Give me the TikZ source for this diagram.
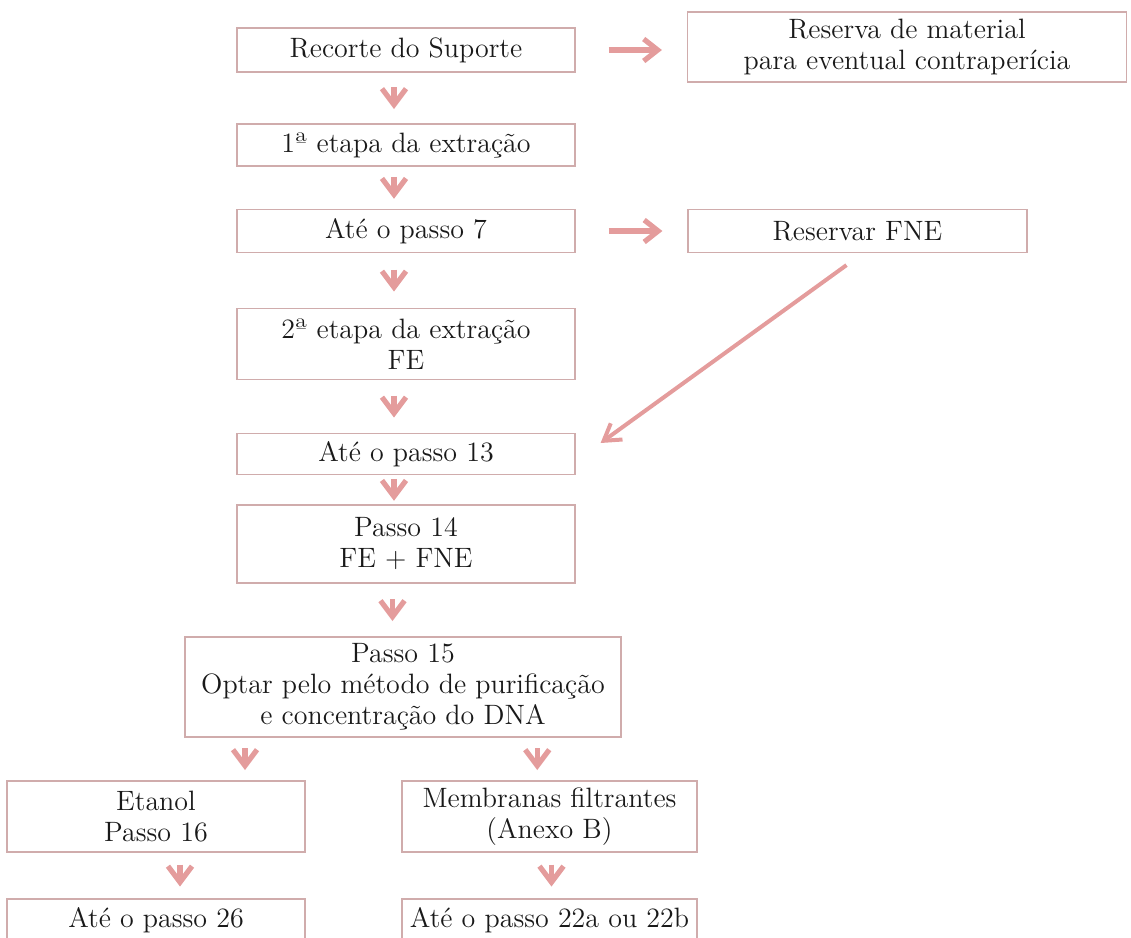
\documentclass[tikz,border=0pt]{standalone}
\usepackage{tikz}
\usetikzlibrary{
  arrows.meta,
  calc,
  positioning
}
\definecolor{boxedge}{RGB}{208,172,172}
\definecolor{arrowpink}{RGB}{228,156,156}

% short arrow in the gap between two stacked boxes
\newcommand{\flowstep}[3][-12]{%
  \draw[flowarrow] ($(#2.south)!.5!(#3.north)+(#1,-11)$) -- ($(#2.south)!.5!(#3.north)+(#1,11)$);}

\begin{document}
\begin{tikzpicture}[x=0.5pt,y=-0.5pt,
    stepbox/.style={draw=boxedge,line width=0.6pt,inner sep=0pt,align=center,
      font=\fontsize{14}{15.5}\selectfont,text=black!90},
    flowarrow/.style={arrowpink,line width=2.6pt,-{Straight Barb[length=8pt,width=12pt]}},
    sidearrow/.style={arrowpink,line width=2.6pt,-{Straight Barb[length=7pt,width=11pt]}},
    longarrow/.style={arrowpink,line width=2pt,-{Straight Barb[length=8pt,width=10pt]}}]
  \useasboundingbox (0,0) rectangle (1131,938);

  % main column
  \node[stepbox,minimum width=169pt,minimum height=22pt] (recorte) at (406,50) {Recorte do Suporte};
  \node[stepbox,minimum width=169pt,minimum height=21pt] (etapa1) at (406,145) {1ª etapa da extração};
  \node[stepbox,minimum width=169pt,minimum height=21.5pt] (passo7) at (406,231) {Até o passo 7};
  \node[stepbox,minimum width=169pt,minimum height=35.5pt] (etapa2) at (406,344) {2ª etapa da extração\\FE};
  \node[stepbox,minimum width=169pt,minimum height=20.5pt] (passo13) at (406,454) {Até o passo 13};
  \node[stepbox,minimum width=169pt,minimum height=39pt] (passo14) at (406,544) {Passo 14\\FE + FNE};
  \node[stepbox,minimum width=218pt,minimum height=50pt] (passo15) at (403,687)
    {Passo 15\\Optar pelo método de purificação\\e concentração do DNA};

  % side boxes
  \node[stepbox,minimum width=219.5pt,minimum height=35pt] (reserva) at (907,47)
    {Reserva de material\\para eventual contraperícia};
  \node[stepbox,minimum width=169.5pt,minimum height=21.5pt] (fne) at (857.5,231) {Reservar FNE};

  % two branches
  \node[stepbox,minimum width=149pt,minimum height=35.5pt] (etanol) at (156,816.5) {Etanol\\Passo 16};
  \node[stepbox,minimum width=147.5pt,minimum height=35.5pt] (membranas) at (549.5,816.5)
    {Membranas filtrantes\\(Anexo B)};
  \node[stepbox,minimum width=149pt,minimum height=21pt] (passo26) at (156,920) {Até o passo 26};
  \node[stepbox,minimum width=147.5pt,minimum height=21pt] (passo22) at (549.5,920) {Até o passo 22a ou 22b};

  % arrows
  \flowstep{recorte}{etapa1}
  \flowstep{etapa1}{passo7}
  \flowstep{passo7}{etapa2}
  \flowstep{etapa2}{passo13}
  \flowstep{passo13}{passo14}
  \flowstep{passo14}{passo15}
  \flowstep[-34.5]{passo15}{etanol}
  \flowstep[61]{passo15}{membranas}
  \flowstep[24]{etanol}{passo26}
  \flowstep[2]{membranas}{passo22}

  \draw[sidearrow] ($(recorte.east)+(33,0)$) -- ($(reserva.west |- recorte.east)+(-25,0)$);
  \draw[sidearrow] ($(passo7.east)+(33,0)$) -- ($(fne.west |- passo7.east)+(-25,0)$);
  \draw[longarrow] ([shift={(-11,12)}]fne.south) -- ([shift={(25,-11)}]passo13.east);
\end{tikzpicture}
\end{document}
